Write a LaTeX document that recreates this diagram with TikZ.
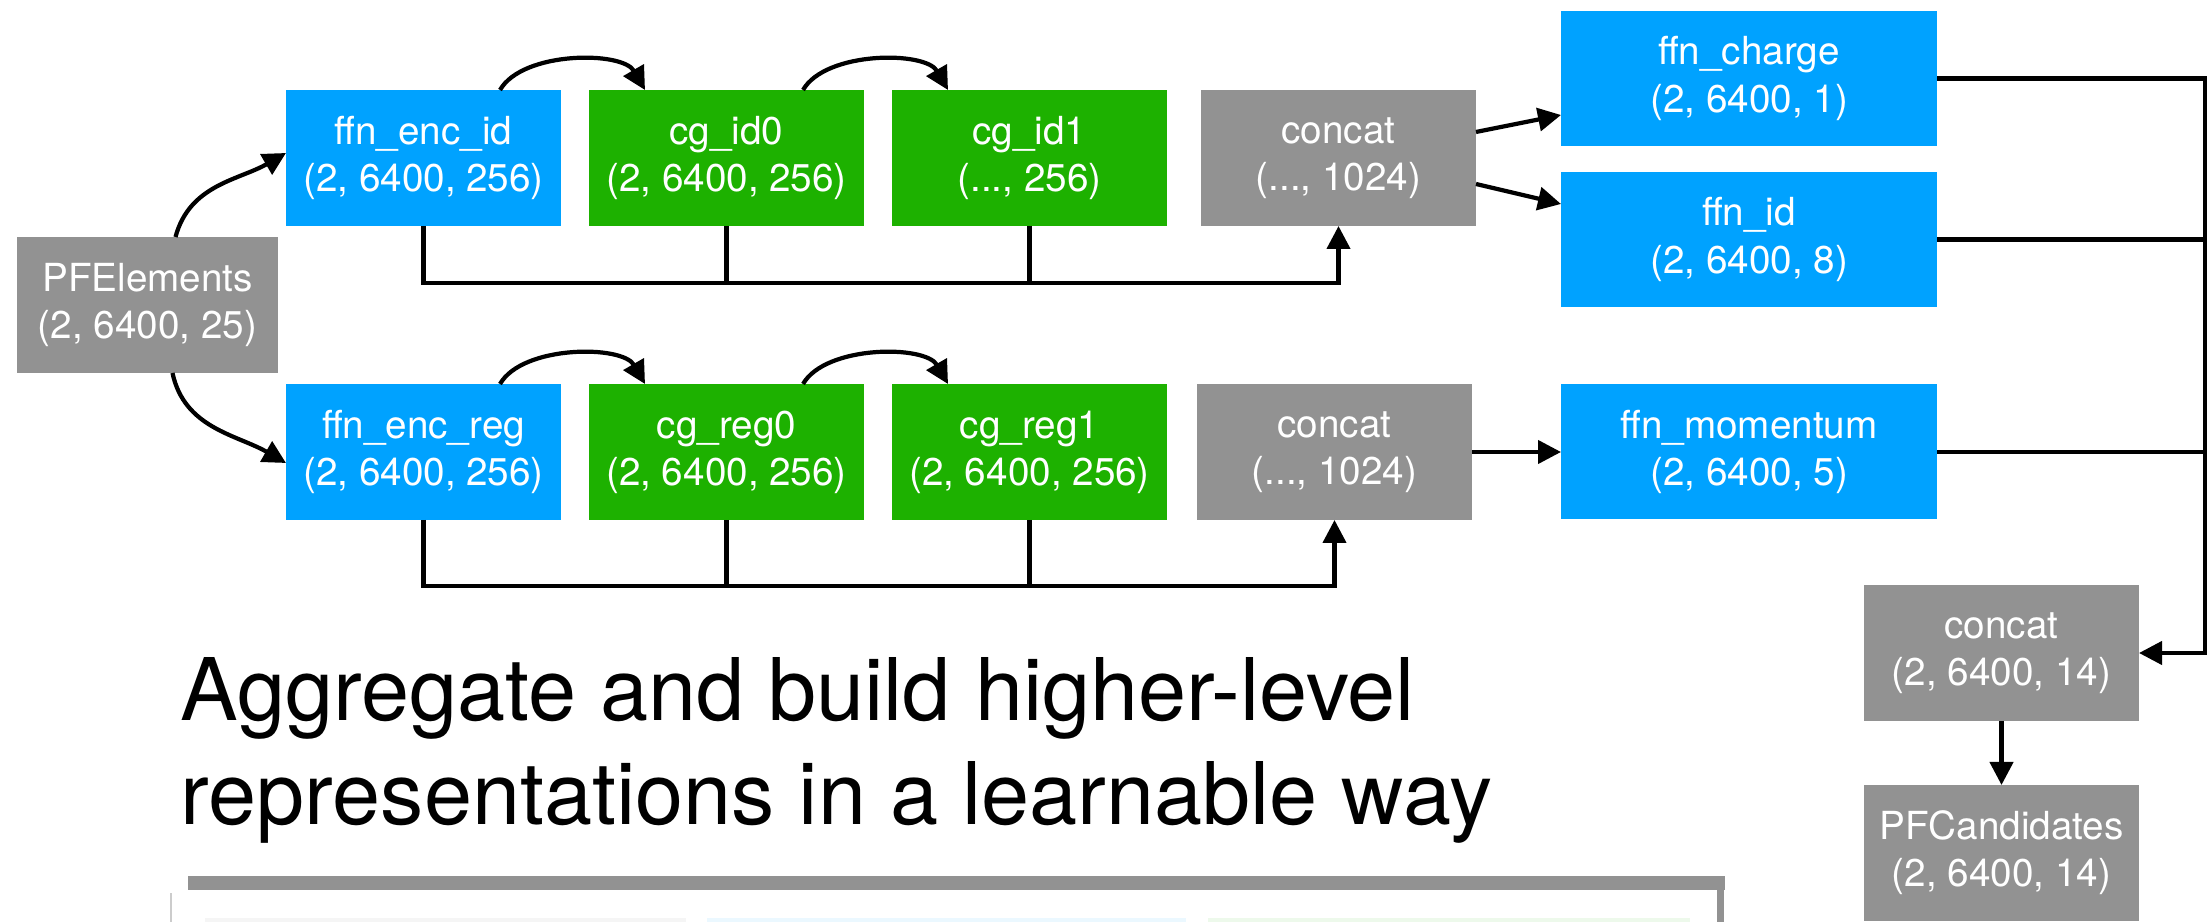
\documentclass[tikz,border=0pt]{standalone}
\usepackage{fontspec}
\setmainfont{TeX Gyre Heros}
\usetikzlibrary{positioning, arrows.meta, calc}

\definecolor{pfblue}{RGB}{0,162,255}
\definecolor{pfgreen}{RGB}{29,177,0}
\definecolor{pfgray}{RGB}{146,146,146}

\begin{document}
\begin{tikzpicture}[
    >={Triangle[length=2.3mm, width=2.3mm]}, % Filled arrow tips
    % Styles
    box/.style={ % Common block
        rectangle,
        minimum width=2.75cm,
        minimum height=1.36cm,
        inner sep=0pt,
        outer sep=0pt,
        text=white,
        align=center,
        font=\fontsize{11}{13.4}\selectfont
    },
    encbox/.style={box, fill=pfblue},
    cgbox/.style={box, fill=pfgreen},
    catbox/.style={box, fill=pfgray},
    outbox/.style={ % Output heads are wider
        box,
        fill=pfblue,
        minimum width=3.76cm,
        minimum height=1.35cm
    },
    arrow/.style={
        ->,
        line width=1.2pt
    },
    link/.style={
        line width=1.2pt
    },
    hop/.style={ % Short arcs between neighbours
        arrow,
        out=60, in=120, looseness=0.8
    }
]
    \useasboundingbox (0,0) rectangle (22.09,-9.22);

    % Input node
    \node[catbox, minimum width=2.61cm] (pfel) at (1.475,-3.05) {PFElements\\(2, 6400, 25)};

    % Upper row: id branch
    \node[encbox] (encid) at (4.235,-1.58) {ffn\_enc\_id\\(2, 6400, 256)};
    \node[cgbox, right=0.28cm of encid] (cgid0) {cg\_id0\\(2, 6400, 256)};
    \node[cgbox, right=0.28cm of cgid0] (cgid1) {cg\_id1\\(..., 256)};
    \node[catbox, right=0.34cm of cgid1] (catid) {concat\\(..., 1024)};

    % Lower row: regression branch
    \node[encbox] (encreg) at (4.235,-4.52) {ffn\_enc\_reg\\(2, 6400, 256)};
    \node[cgbox, right=0.28cm of encreg] (cgreg0) {cg\_reg0\\(2, 6400, 256)};
    \node[cgbox, right=0.28cm of cgreg0] (cgreg1) {cg\_reg1\\(2, 6400, 256)};
    \node[catbox, right=0.30cm of cgreg1] (catreg) {concat\\(..., 1024)};

    % Output heads
    \node[outbox] (charge) at (17.49,-0.785) {ffn\_charge\\(2, 6400, 1)};
    \node[outbox] (ffnid) at (17.49,-2.395) {ffn\_id\\(2, 6400, 8)};
    \node[outbox] (momentum) at (17.49,-4.52) {ffn\_momentum\\(2, 6400, 5)};

    % Final concat and result
    \node[catbox] (catall) at (20.015,-6.53) {concat\\(2, 6400, 14)};
    \node[catbox, below=0.64cm of catall] (pfcand) {PFCandidates\\(2, 6400, 14)};

    % Input to both encoders
    \draw[arrow] ([xshift=0.28cm]pfel.north) to[out=75, in=210] ([yshift=0.05cm]encid.west);
    \draw[arrow] ([xshift=0.25cm]pfel.south) to[out=-78, in=150] ([yshift=-0.11cm]encreg.west);

    % Arcs along each row
    \draw[hop] ([xshift=0.765cm]encid.north) to ([xshift=-0.815cm]cgid0.north);
    \draw[hop] ([xshift=0.765cm]cgid0.north) to ([xshift=-0.815cm]cgid1.north);
    \draw[hop] ([xshift=0.765cm]encreg.north) to ([xshift=-0.815cm]cgreg0.north);
    \draw[hop] ([xshift=0.765cm]cgreg0.north) to ([xshift=-0.815cm]cgreg1.north);

    % Skip connections into the concat blocks
    \draw[arrow] (encid.south) -- ++(0,-0.57) -| (catid.south);
    \draw[link] (cgid0.south) -- ++(0,-0.57);
    \draw[link] (cgid1.south) -- ++(0,-0.57);
    \draw[arrow] (encreg.south) -- ++(0,-0.66) -| (catreg.south);
    \draw[link] (cgreg0.south) -- ++(0,-0.66);
    \draw[link] (cgreg1.south) -- ++(0,-0.66);

    % Concat to heads
    \draw[arrow] ([yshift=0.26cm]catid.east) -- ([yshift=-0.365cm]charge.west);
    \draw[arrow] ([yshift=-0.26cm]catid.east) -- ([yshift=0.355cm]ffnid.west);
    \draw[arrow] (catreg) -- (momentum);

    % Heads collected on the right
    \coordinate (bus) at (22.05,-0.785);
    \draw[arrow] (charge.east) -- (bus) |- (catall.east);
    \draw[link] (ffnid.east) -- (ffnid.east -| bus);
    \draw[link] (momentum.east) -- (momentum.east -| bus);
    \draw[arrow] (catall) -- (pfcand);

    % Caption (base is the second line)
    \node[anchor=base west, align=left, inner sep=0pt,
          font=\fontsize{24.6}{29.6}\selectfont] (caption) at (1.80,-8.25)
        {Aggregate and build higher-level\\representations in a learnable way};

    % Cut-off frame at the bottom
    \fill[pfgray] (1.88,-8.76) rectangle (17.25,-8.90);
    \draw[pfgray, line width=2pt] (17.20,-8.78) -- (17.20,-9.22);
    \draw[gray!40, line width=0.6pt] (1.71,-8.93) -- (1.71,-9.22);
    \fill[gray!8] (2.05,-9.18) rectangle (6.86,-9.30);
    \fill[pfblue!8] (7.07,-9.18) rectangle (11.86,-9.30);
    \fill[pfgreen!8] (12.08,-9.18) rectangle (16.90,-9.30);
\end{tikzpicture}
\end{document}
